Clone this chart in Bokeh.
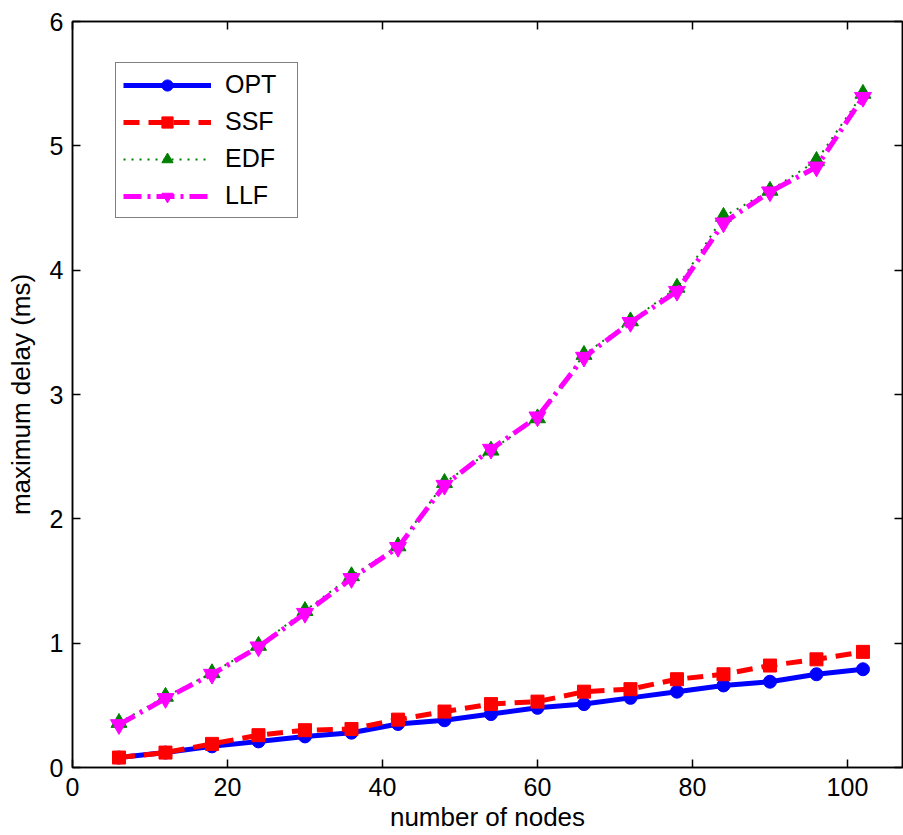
from bokeh.plotting import figure
from bokeh.models import Range1d, LinearAxis, Legend, LegendItem, FixedTicker, CustomJSTickFormatter
from bokeh.embed import file_html
from bokeh.resources import INLINE

nodes = [6, 12, 18, 24, 30, 36, 42, 48, 54, 60, 66, 72, 78, 84, 90, 96, 102]
opt = [0.08, 0.12, 0.17, 0.21, 0.25, 0.28, 0.35, 0.38, 0.43, 0.48, 0.51, 0.56, 0.61, 0.66, 0.69, 0.75, 0.79]
ssf = [0.08, 0.12, 0.19, 0.26, 0.30, 0.31, 0.385, 0.45, 0.51, 0.53, 0.61, 0.63, 0.71, 0.75, 0.82, 0.87, 0.93]
edf = [0.36, 0.57, 0.76, 0.98, 1.26, 1.54, 1.78, 2.29, 2.55, 2.81, 3.32, 3.59, 3.86, 4.43, 4.64, 4.88, 5.42]
llf = [0.345, 0.555, 0.75, 0.97, 1.24, 1.52, 1.77, 2.27, 2.56, 2.82, 3.30, 3.58, 3.83, 4.38, 4.63, 4.83, 5.39]

x_ticks = [0, 20, 40, 60, 80, 100]
y_ticks = [0, 1, 2, 3, 4, 5, 6]

FONT = "Liberation Sans"

p = figure(width=903, height=835, output_backend="svg", toolbar_location=None,
           x_range=Range1d(0, 107.1), y_range=Range1d(0, 6),
           min_border_left=72, min_border_right=1, min_border_top=21, min_border_bottom=68)
p.grid.visible = False
p.outline_line_color = "black"
p.outline_line_width = 1.5
p.background_fill_color = "white"
p.border_fill_color = "white"

def style_axis(ax, labels=True):
    ax.axis_line_color = "black"
    ax.axis_line_width = 1.5
    ax.major_tick_in = 8
    ax.major_tick_out = 0
    ax.major_tick_line_color = "black"
    ax.major_tick_line_width = 1.5
    ax.minor_tick_line_color = None
    ax.major_label_text_font = FONT
    ax.major_label_text_color = "black"
    ax.axis_label_text_font = FONT
    ax.axis_label_text_font_style = "normal"
    ax.axis_label_text_color = "black"
    if not labels:
        ax.formatter = CustomJSTickFormatter(code="return '';")
        ax.major_label_standoff = 0

xa = p.xaxis[0]
ya = p.yaxis[0]
xa.ticker = FixedTicker(ticks=x_ticks)
ya.ticker = FixedTicker(ticks=y_ticks)
style_axis(xa)
style_axis(ya)
xa.major_label_text_font_size = "25px"
ya.major_label_text_font_size = "25px"
xa.axis_label = "number of nodes"
ya.axis_label = "maximum delay (ms)"
xa.axis_label_text_font_size = "26px"
ya.axis_label_text_font_size = "26px"
xa.major_label_standoff = 10
ya.major_label_standoff = 9
xa.axis_label_standoff = 3
ya.axis_label_standoff = 11

top = LinearAxis(ticker=FixedTicker(ticks=x_ticks))
style_axis(top, labels=False)
p.add_layout(top, "above")
right = LinearAxis(ticker=FixedTicker(ticks=y_ticks))
style_axis(right, labels=False)
p.add_layout(right, "right")

r1l = p.line(nodes, opt, line_color="#0000FF", line_width=5)
r1m = p.scatter(nodes, opt, marker="circle", size=13, fill_color="#0000FF", line_color="#0000FF")
r2l = p.line(nodes, ssf, line_color="#FF0000", line_width=5, line_dash="16 9")
r2m = p.scatter(nodes, ssf, marker="square", size=13, fill_color="#FF0000", line_color="#FF0000")
r3l = p.line(nodes, edf, line_color="#008000", line_width=2, line_dash="2 6")
r3m = p.scatter(nodes, edf, marker="triangle", size=16, fill_color="#008000", line_color="#008000")
r4l = p.line(nodes, llf, line_color="#FF00FF", line_width=5, line_dash="18 6 3 6")
r4m = p.scatter(nodes, llf, marker="inverted_triangle", size=17, fill_color="#FF00FF", line_color="#FF00FF")

legend = Legend(items=[
    LegendItem(label="OPT", renderers=[r1l, r1m]),
    LegendItem(label="SSF", renderers=[r2l, r2m]),
    LegendItem(label="EDF", renderers=[r3l, r3m]),
    LegendItem(label="LLF", renderers=[r4l, r4m]),
], location=(43, 549))
legend.label_text_font = FONT
legend.label_text_font_size = "25px"
legend.label_text_color = "black"
legend.glyph_width = 88
legend.glyph_height = 28
legend.label_height = 28
legend.label_width = 65
legend.label_standoff = 14
legend.spacing = 8
legend.padding = 7
legend.margin = 0
legend.border_line_color = "black"
legend.border_line_width = 1.5
legend.background_fill_color = "white"
legend.background_fill_alpha = 1.0
p.add_layout(legend)

open("out.html", "w").write(file_html(p, INLINE))
